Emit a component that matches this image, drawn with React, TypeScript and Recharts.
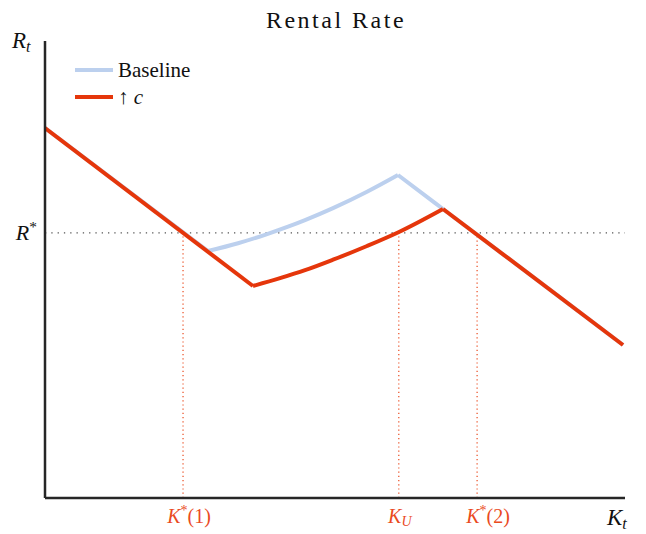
import { LineChart, Line, XAxis, YAxis, ReferenceLine } from 'recharts';

// capital stock (K) and rental rate (R), in chart units 0..100
const baselineK = [0, 28.1, 33.28, 37.93, 41.9, 44.83, 49.66, 55.52, 60.86, 68.62, 99.66];
const baselineR = [80.96, 54.05, 55.75, 57.59, 59.37, 60.81, 63.43, 67.02, 70.68, 63.24, 33.48];
const shockK = [0, 35.86, 40.52, 44.83, 49.66, 55.52, 61.03, 68.62, 99.66];
const shockR = [80.96, 46.39, 48.1, 49.85, 52.14, 55.14, 58.21, 63.24, 33.48];

// indices where each curve has a kink (the pieces between are drawn smooth)
const baselineKinks = [1, 8];
const shockKinks = [1, 7];

const rStar = 58;
const markerK = [23.8, 61.0, 74.5];
const markerNames = ['K^*(1)', 'K_U', 'K^*(2)'];

const seriesNames = ['Baseline', '↑ c'];

const SERIF = "'Liberation Serif', 'Times New Roman', Times, 'DejaVu Serif', 'Noto Serif', serif";
const RED = '#e5360b';
const RED_LABEL = '#ea4a1e';
const BLUE = '#bcd0ee';
const AXIS = '#262626';

const toPoints = (ks: number[], rs: number[]) => ks.map((k, i) => ({ k, r: rs[i] }));

const splitAt = (pts: { k: number; r: number }[], kinks: number[]) => {
    const cuts = [0, ...kinks, pts.length - 1];
    return cuts.slice(1).map((end, i) => pts.slice(cuts[i], end + 1));
};

const baselinePieces = splitAt(toPoints(baselineK, baselineR), baselineKinks);
const shockPieces = splitAt(toPoints(shockK, shockR), shockKinks);

// tiny tex-ish renderer: "K^*(1)", "K_U", "R_t"
const MathText = ({ tex, size }: { tex: string; size: number }) => {
    const m = tex.match(/^([A-Za-z])([\^_])([^()]+)(.*)$/);
    if (!m) return <tspan fontStyle="italic">{tex}</tspan>;
    const [, base, kind, script, rest] = m;
    const shift = kind === '^' ? -size * 0.38 : size * 0.16;
    const small = size * 0.7;
    return (
        <>
            <tspan fontStyle="italic">{base}</tspan>
            <tspan dy={shift} fontSize={small} fontStyle={script === '*' ? 'normal' : 'italic'}>
                {script}
            </tspan>
            {rest ? <tspan dy={-shift}>{rest}</tspan> : null}
        </>
    );
};

const labelDx = [6, 1, 11];

const renderMarkerTick = ({ x, payload }: any) => {
    const i = markerK.indexOf(payload.value);
    return (
        <text x={x + (labelDx[i] ?? 0)} y={523} textAnchor="middle" fontFamily={SERIF} fontSize={20} fill={RED_LABEL}>
            <MathText tex={markerNames[i]} size={20} />
        </text>
    );
};

const renderRStarTick = ({ y }: any) => (
    <text x={37} y={y + 7} textAnchor="end" fontFamily={SERIF} fontSize={22} fill="#111">
        <MathText tex="R^*" size={22} />
    </text>
);

export default function App() {
    return (
        <div style={{ position: 'absolute', left: 0, top: 0, width: 646, height: 534, background: '#fff' }}>
            <LineChart width={646} height={534} margin={{ top: 41, right: 21, bottom: 0, left: 44 }}>
                <XAxis
                    dataKey="k"
                    type="number"
                    domain={[0, 100]}
                    ticks={markerK}
                    interval={0}
                    tick={renderMarkerTick}
                    tickLine={false}
                    height={36}
                    axisLine={{ stroke: AXIS, strokeWidth: 2.5 }}
                    allowDataOverflow
                />
                <YAxis
                    type="number"
                    domain={[0, 100]}
                    ticks={[rStar]}
                    tick={renderRStarTick}
                    tickLine={false}
                    width={1}
                    axisLine={{ stroke: AXIS, strokeWidth: 2.5 }}
                    allowDataOverflow
                />
                <ReferenceLine y={rStar} stroke="#555" strokeWidth={1.3} strokeDasharray="1.3 5" />
                {markerK.map((k) => (
                    <ReferenceLine
                        key={k}
                        segment={[
                            { x: k, y: 0 },
                            { x: k, y: rStar },
                        ]}
                        stroke={RED_LABEL}
                        strokeWidth={1.2}
                        strokeDasharray="1.2 3"
                    />
                ))}
                {baselinePieces.map((piece, i) => (
                    <Line
                        key={`b${i}`}
                        data={piece}
                        dataKey="r"
                        name={seriesNames[0]}
                        type="monotoneX"
                        stroke={BLUE}
                        strokeWidth={4}
                        dot={false}
                        isAnimationActive={false}
                    />
                ))}
                {shockPieces.map((piece, i) => (
                    <Line
                        key={`s${i}`}
                        data={piece}
                        dataKey="r"
                        name={seriesNames[1]}
                        type="monotoneX"
                        stroke={RED}
                        strokeWidth={4}
                        dot={false}
                        isAnimationActive={false}
                    />
                ))}
            </LineChart>
            <svg
                width={646}
                height={534}
                style={{ position: 'absolute', left: 0, top: 0, pointerEvents: 'none' }}
            >
                <text x={336} y={28} textAnchor="middle" fontFamily={SERIF} fontSize={24} letterSpacing={2.5} fill="#111">
                    Rental Rate
                </text>
                <text x={12} y={48} fontFamily={SERIF} fontSize={23} fill="#111">
                    <MathText tex="R_t" size={23} />
                </text>
                <text x={607} y={525} fontFamily={SERIF} fontSize={23} fill="#111">
                    <MathText tex="K_t" size={23} />
                </text>
                {/* legend */}
                {seriesNames.map((name, i) => {
                    const y = 70 + i * 27;
                    return (
                        <g key={name}>
                            <line x1={75} x2={113} y1={y} y2={y} stroke={i === 0 ? BLUE : RED} strokeWidth={4} />
                            <text x={118} y={y + 6.5} fontFamily={SERIF} fontSize={21} fill="#111">
                                {i === 1 ? (
                                    <>
                                        <tspan>↑ </tspan>
                                        <tspan fontStyle="italic">c</tspan>
                                    </>
                                ) : (
                                    name
                                )}
                            </text>
                        </g>
                    );
                })}
            </svg>
        </div>
    );
}
